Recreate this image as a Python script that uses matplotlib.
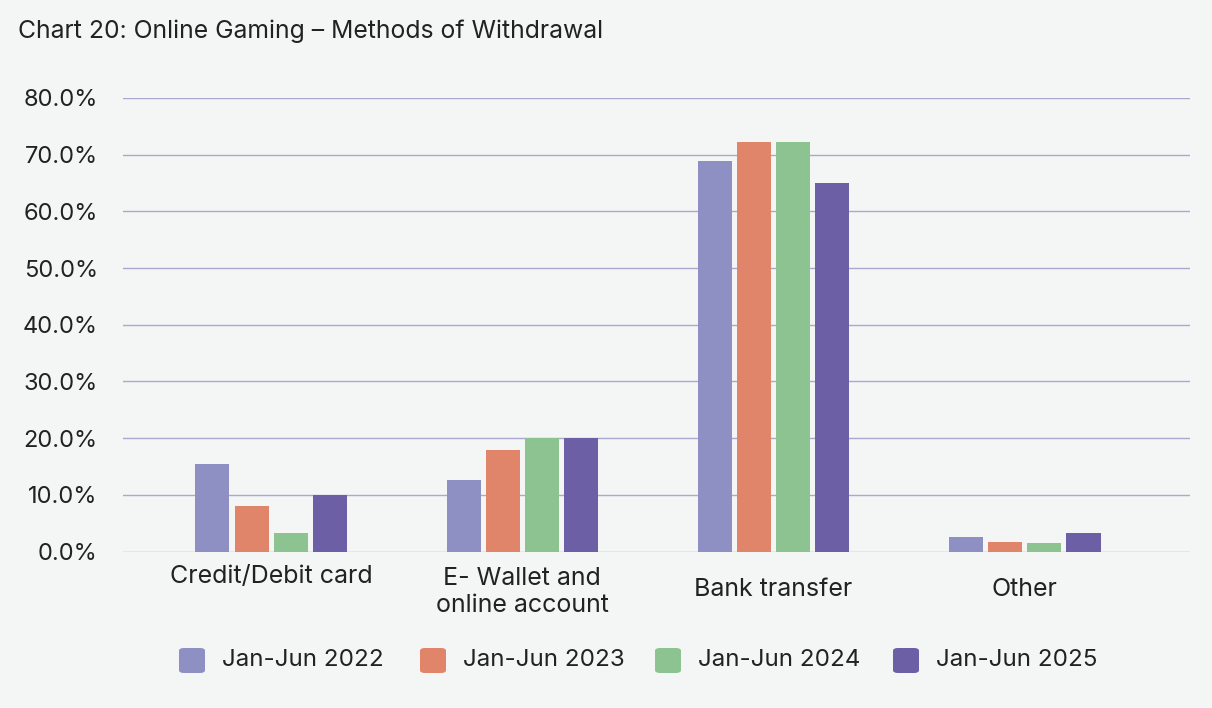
import matplotlib
matplotlib.use("Agg")
import matplotlib.pyplot as plt
import matplotlib.transforms as mtransforms
from matplotlib.patches import FancyBboxPatch
import numpy as np

categories = ["Credit/Debit card", "E- Wallet and\nonline account", "Bank transfer", "Other"]
series_names = ["Jan-Jun 2022", "Jan-Jun 2023", "Jan-Jun 2024", "Jan-Jun 2025"]
v2022 = [15.5, 12.6, 68.8, 2.6]
v2023 = [8.0, 17.9, 72.3, 1.7]
v2024 = [3.2, 20.1, 72.3, 1.5]
v2025 = [10.0, 20.1, 65.0, 3.3]
series_values = [v2022, v2023, v2024, v2025]
colors = ["#8E8FC3", "#E0846A", "#8DC390", "#6C5FA6"]
yticks = [0, 10, 20, 30, 40, 50, 60, 70, 80]
ytick_labels = ["0.0%", "10.0%", "20.0%", "30.0%", "40.0%", "50.0%", "60.0%", "70.0%", "80.0%"]
title = "Chart 20: Online Gaming \u2013 Methods of Withdrawal"

plt.rcParams['font.family'] = ['Inter', 'DejaVu Sans']
txt = "#222222"
bg = "#F4F5F5"

fig = plt.figure(figsize=(12.12, 7.08), dpi=100, facecolor=bg)
ax = fig.add_axes([123/1212, 1-551.5/708, (1190-123)/1212, (551.5-98)/708])
ax.set_facecolor(bg)

x = np.arange(len(categories))
w = 0.136
step = 0.156
for i, (vals, c) in enumerate(zip(series_values, colors)):
    ax.bar(x + (i - 1.5) * step, vals, width=w, color=c, zorder=3)

ax.set_ylim(0, 80)
ax.set_xlim(-0.59, 3.658)
ax.set_yticks(yticks)
ax.set_yticklabels(ytick_labels, fontsize=17, color=txt)
ax.tick_params(axis='y', length=0, pad=29)
for lab in ax.get_yticklabels():
    pass
ax.yaxis.grid(True, color="#ABA7D0", linewidth=1.0, zorder=0)
ax.set_xticks([])
for s in ax.spines.values():
    s.set_visible(False)

trans = mtransforms.blended_transform_factory(ax.transData, fig.transFigure)
label_y = [1-577/708, 1-592/708, 1-590/708, 1-590/708]
for xi, lab, ly in zip(x, categories, label_y):
    ax.text(xi, ly, lab, transform=trans, ha='center', va='center',
            fontsize=18, color=txt, linespacing=1.2)

fig.text(18/1212, 1-31/708, title, fontsize=17.8, color=txt, ha='left', va='center')

# legend
lx = [179, 420, 655, 893]
for px, name, c in zip(lx, series_names, colors):
    fig.patches.append(FancyBboxPatch((px/1212, 1-673/708), 26/1212, 25/708,
                                      boxstyle="round,pad=0,rounding_size=0.004",
                                      transform=fig.transFigure, facecolor=c,
                                      edgecolor='none'))
    fig.text((px+43)/1212, 1-660/708, name, fontsize=17.4, color=txt,
             ha='left', va='center')

fig.canvas.draw()
# shift y tick labels so right edge sits near x=93px
off = mtransforms.ScaledTranslation(15/100, 0, fig.dpi_scale_trans)
for lab in ax.get_yticklabels():
    lab.set_transform(lab.get_transform() + off)

fig.savefig("out.png", dpi=100, facecolor=bg)
